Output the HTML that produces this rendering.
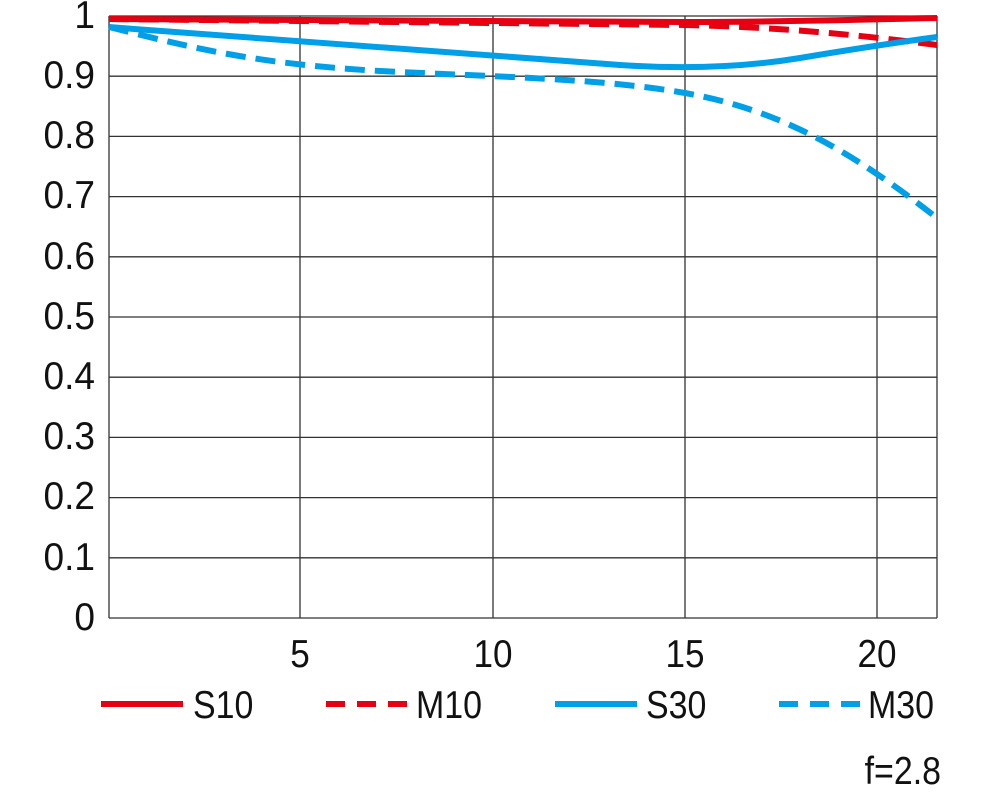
<!DOCTYPE html>
<html><head><meta charset="utf-8"><style>
html,body{margin:0;padding:0;background:#fff;}
svg text{font-family:"Liberation Sans",sans-serif;font-size:39px;fill:#111;}
</style></head><body>
<svg width="1000" height="789" viewBox="0 0 1000 789" xmlns="http://www.w3.org/2000/svg">
<g stroke="#333" stroke-width="1.3" fill="none">
<line x1="109" y1="16" x2="937" y2="16"/>
<line x1="109" y1="76.2" x2="937" y2="76.2"/>
<line x1="109" y1="136.4" x2="937" y2="136.4"/>
<line x1="109" y1="196.6" x2="937" y2="196.6"/>
<line x1="109" y1="256.8" x2="937" y2="256.8"/>
<line x1="109" y1="317" x2="937" y2="317"/>
<line x1="109" y1="377.2" x2="937" y2="377.2"/>
<line x1="109" y1="437.4" x2="937" y2="437.4"/>
<line x1="109" y1="497.6" x2="937" y2="497.6"/>
<line x1="109" y1="557.8" x2="937" y2="557.8"/>
<line x1="109" y1="618" x2="937" y2="618"/>
<line x1="109" y1="16" x2="109" y2="618"/>
<line x1="300" y1="16" x2="300" y2="618"/>
<line x1="493" y1="16" x2="493" y2="618"/>
<line x1="685" y1="16" x2="685" y2="618"/>
<line x1="877" y1="16" x2="877" y2="618"/>
<line x1="937" y1="16" x2="937" y2="618"/>
</g>
<g fill="none" stroke-width="6">
<path d="M109,19 C300,20 494,21 685,22 C800,22 880,19 937,18" stroke="#e60012"/>
<path d="M109,19 C300,21 494,23 685,25 C780,27 860,35 937,45" stroke="#e60012" stroke-dasharray="20,10"/>
<path d="M109,27 C300,42 494,56 620,65 C680,69 740,68 800,58 C860,48 900,42 937,37" stroke="#00a0e9"/>
<path d="M109,27 C200,50 260,64 380,71 C494,77 600,78 685,93 C780,110 850,150 937,218" stroke="#00a0e9" stroke-dasharray="20,10"/>
</g>
<g text-anchor="end">
<text transform="translate(95,28) scale(0.95,1)">1</text>
<text transform="translate(95,88) scale(0.95,1)">0.9</text>
<text transform="translate(95,148) scale(0.95,1)">0.8</text>
<text transform="translate(95,208) scale(0.95,1)">0.7</text>
<text transform="translate(95,269) scale(0.95,1)">0.6</text>
<text transform="translate(95,329) scale(0.95,1)">0.5</text>
<text transform="translate(95,389) scale(0.95,1)">0.4</text>
<text transform="translate(95,449) scale(0.95,1)">0.3</text>
<text transform="translate(95,509) scale(0.95,1)">0.2</text>
<text transform="translate(95,570) scale(0.95,1)">0.1</text>
<text transform="translate(95,630) scale(0.95,1)">0</text>
</g>
<g text-anchor="middle">
<text transform="translate(300,667) scale(0.9,1)">5</text>
<text transform="translate(493,667) scale(0.9,1)">10</text>
<text transform="translate(685,667) scale(0.9,1)">15</text>
<text transform="translate(877,667) scale(0.9,1)">20</text>
</g>
<g stroke-width="6">
<line x1="101" y1="704" x2="183" y2="704" stroke="#e60012"/>
<line x1="326" y1="704" x2="407" y2="704" stroke="#e60012" stroke-dasharray="19,12"/>
<line x1="555" y1="704" x2="637" y2="704" stroke="#00a0e9"/>
<line x1="779" y1="704" x2="862" y2="704" stroke="#00a0e9" stroke-dasharray="19,12"/>
</g>
<text transform="translate(193,718) scale(0.87,1)">S10</text>
<text transform="translate(416,718) scale(0.87,1)">M10</text>
<text transform="translate(646,718) scale(0.87,1)">S30</text>
<text transform="translate(868,718) scale(0.87,1)">M30</text>
<text text-anchor="end" transform="translate(941,784) scale(0.87,1)">f=2.8</text>
</svg>
</body></html>
